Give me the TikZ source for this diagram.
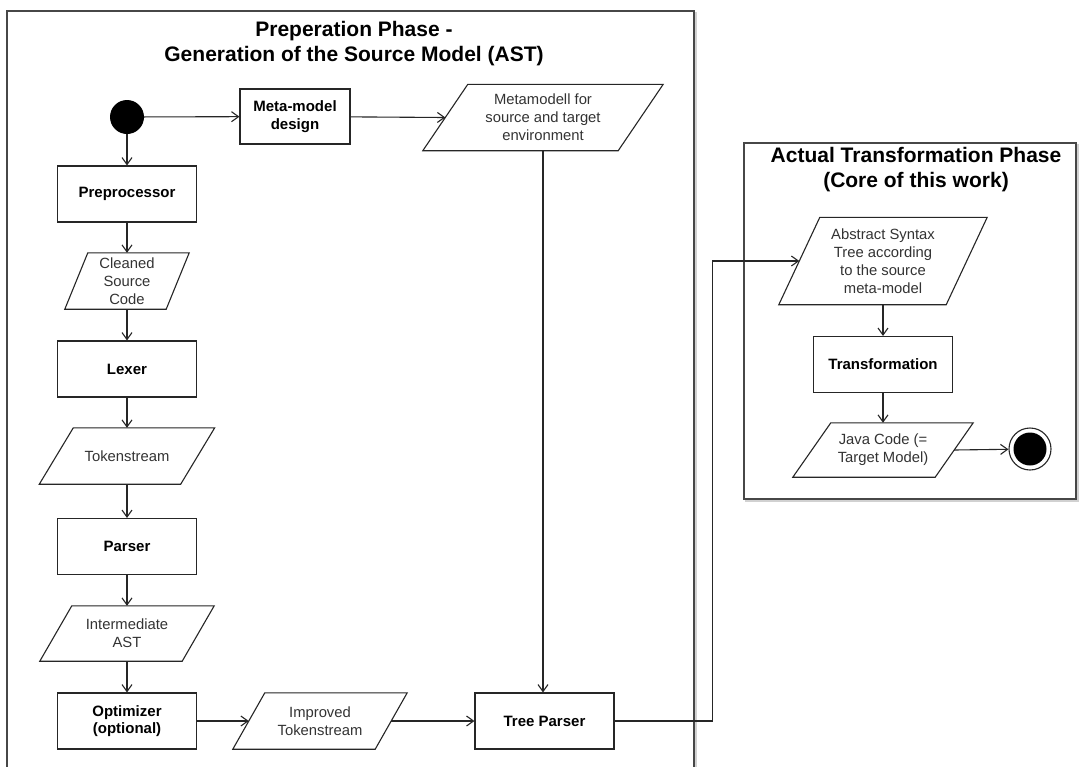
\documentclass[tikz,border=0pt]{standalone}
\usepackage{fontspec}
\setmainfont{Liberation Sans}
\usetikzlibrary{arrows.meta,calc}

\tikzset{
  line/.style={draw=black!85, line width=1.1pt},
  flow/.style={line, -{Straight Barb[length=7pt,width=10pt,line width=1.1pt]}},
  frame/.style={draw=black!72, line width=1.6pt, fill=white},
  shade/.style={draw=black!18, line width=2pt},
  stepbox/.style={rectangle, line, minimum width=139pt, minimum height=56pt,
    inner sep=2pt, align=center, font=\fontsize{15}{17.5}\selectfont\bfseries},
  databox/.style={rectangle, minimum height=56pt, inner sep=2pt, align=center,
    text=black!80, font=\fontsize{14.8}{18}\selectfont},
  heading/.style={align=center, font=\fontsize{21}{25}\selectfont\bfseries},
}

% outline of a data node as a parallelogram; #2 is half of the slant
\newcommand\slantbox[2]{%
  \draw[line] ([xshift=#2]#1.north west) -- ([xshift=#2]#1.north east)
    -- ([xshift=-#2]#1.south east) -- ([xshift=-#2]#1.south west) -- cycle;}

\begin{document}
\begin{tikzpicture}[x=1pt,y=-1pt]
\useasboundingbox (0,0) rectangle (1081,766);
\clip (0,0) rectangle (1081,766);

% phase frames with a soft shadow
\draw[shade] (9,13) rectangle (696,800);
\draw[frame] (7,11) rectangle (694,800);
\draw[shade] (746,145) rectangle (1078,501);
\draw[frame] (744,143) rectangle (1076,499);

\node[heading] (title1) at (354,44) {Preperation Phase -\\Generation of the Source Model (AST)};
\node[heading] (title2) at (916,170) {Actual Transformation Phase\\(Core of this work)};

% preparation phase
\node[circle, fill=black, minimum size=34pt, inner sep=0pt] (start) at (127,117) {};
\node[stepbox, minimum width=110pt, minimum height=55pt] (meta) at (295,116.5) {Meta-model\\design};
\node[databox, minimum width=195pt, minimum height=66pt] (mm) at (543,117.5) {Metamodell for\\source and target\\environment};

\node[stepbox] (pre) at (127,194) {Preprocessor};
\node[databox, minimum width=101pt] (clean) at (127,281) {Cleaned\\Source\\Code};
\node[stepbox] (lex) at (127,369) {Lexer};
\node[databox, minimum width=141pt] (tok) at (127,456) {Tokenstream};
\node[stepbox] (par) at (127,546.5) {Parser};
\node[databox, minimum width=142pt, minimum height=55pt] (iast) at (127,633.5) {Intermediate\\AST};
\node[stepbox] (opt) at (127,721) {Optimizer\\(optional)};
\node[databox, minimum width=142pt] (imp) at (320,721) {Improved\\Tokenstream};
\node[stepbox] (tree) at (544.5,721) {Tree Parser};

% transformation phase
\node[databox, minimum width=167pt, minimum height=87pt] (ast) at (883,261) {Abstract Syntax\\Tree according\\to the source\\meta-model};
\node[stepbox] (trans) at (883,364.5) {Transformation};
\node[databox, minimum width=142pt, minimum height=54pt] (java) at (883,450) {Java Code (=\\Target Model)};
\node[circle, line, minimum size=42pt, inner sep=0pt] (end) at (1030,449) {};
\node[circle, fill=black, minimum size=33pt, inner sep=0pt] (endcore) at (end.center) {};

\slantbox{mm}{22.5pt}
\slantbox{clean}{11.5pt}
\slantbox{tok}{17pt}
\slantbox{iast}{16pt}
\slantbox{imp}{16pt}
\slantbox{ast}{20.5pt}
\slantbox{java}{19pt}

% connectors
\draw[flow] (start) -- (meta);
\draw[flow] (meta) -- (mm.west);
\draw[flow] (start) -- (pre);
\draw[flow] (pre) -- (clean);
\draw[flow] (clean) -- (lex);
\draw[flow] (lex) -- (tok);
\draw[flow] (tok) -- (par);
\draw[flow] (par) -- (iast);
\draw[flow] (iast) -- (opt);
\draw[flow] (opt) -- (imp.west);
\draw[flow] (imp.east) -- (tree);
\draw[flow] (mm.south) -- (mm.south |- tree.north);
\draw[flow] (tree.east) -- ++(98,0) |- (ast.west);
\draw[flow] (ast) -- (trans);
\draw[flow] (trans) -- (java);
\draw[flow] (java.east) -- (end);
\end{tikzpicture}
\end{document}
